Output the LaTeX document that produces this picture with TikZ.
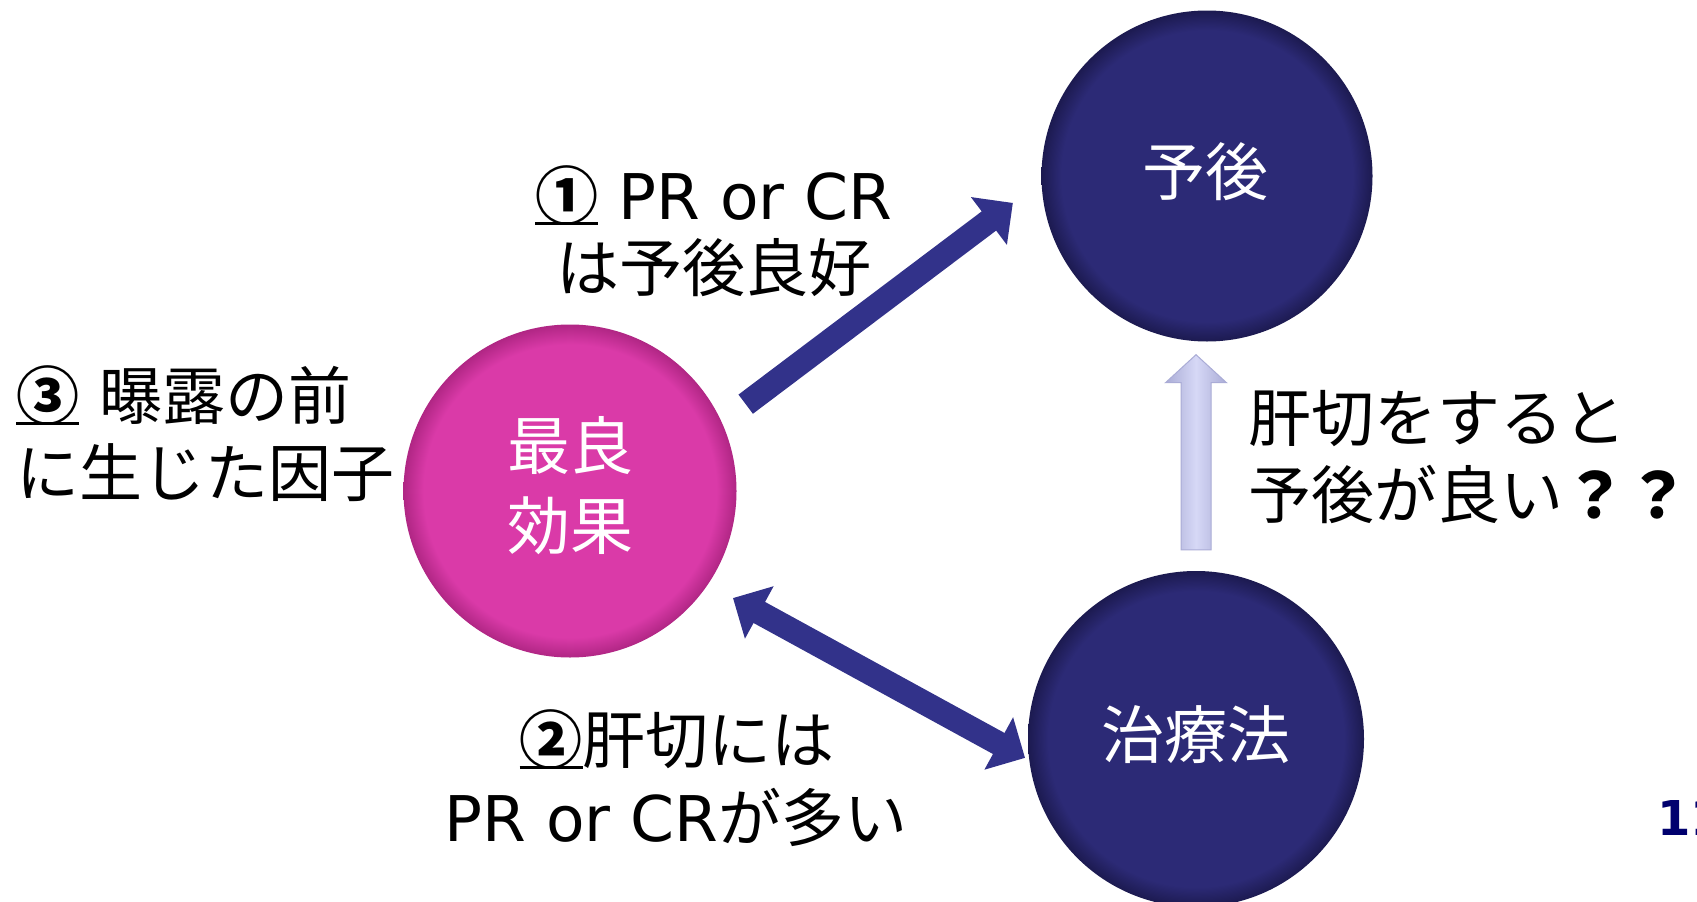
\documentclass[tikz,border=0pt]{standalone}
\usepackage{fontspec}
\setmainfont{DejaVu Sans}
\newfontfamily\jp{Noto Sans CJK JP}
\usetikzlibrary{arrows.meta,calc}
\definecolor{navy}{RGB}{44,42,118}
\definecolor{navydark}{RGB}{28,26,80}
\definecolor{mag}{RGB}{218,58,168}
\definecolor{magdark}{RGB}{176,38,132}
\definecolor{arrowblue}{RGB}{50,50,138}
\definecolor{lavmid}{RGB}{214,216,246}
\definecolor{lavedge}{RGB}{170,172,214}
\definecolor{pagenum}{RGB}{0,0,110}
\pgfdeclareradialshading{navyball}{\pgfpoint{0bp}{0bp}}{color(0bp)=(navy); color(22bp)=(navy); color(25bp)=(navydark); color(50bp)=(navydark)}
\pgfdeclareradialshading{magball}{\pgfpoint{0bp}{0bp}}{color(0bp)=(mag); color(22bp)=(mag); color(25bp)=(magdark); color(50bp)=(magdark)}
\newcommand{\myul}[1]{\setbox0\hbox{#1}\rlap{\rule[-6pt]{\wd0}{3pt}}\box0\relax}
\begin{document}
\begin{tikzpicture}[x=1pt,y=1pt,
  ball/.style={circle, inner sep=0pt, minimum size=#1, shade},
  txt/.style={anchor=base, inner sep=0pt, font=\fontsize{63}{76}\selectfont},
  jtxt/.style={txt, font=\jp\fontsize{63}{76}\selectfont},
  wtxt/.style={jtxt, text=white},
  navyarrow/.style={draw=arrowblue, line width=24pt},
  tipA/.tip={Triangle[length=30pt,width=58pt]}]
\useasboundingbox (0,0) rectangle (1697,-902);
\fill[white] (0,0) rectangle (1697,-902);

% circles
\node[ball=331, shading=navyball] (prog) at (1207,-176) {};
\node[ball=333, shading=magball] (best) at (570,-491) {};
\node[ball=336, shading=navyball] (treat) at (1196,-739) {};

% circle texts
\node[wtxt] (progT) at (1205,-195) {予後};
\node[wtxt] (bestT1) at (570,-469) {最良};
\node[wtxt] (bestT2) at (570,-549) {効果};
\node[wtxt] (treatT) at (1196,-758) {治療法};

% arrow 1
\draw[navyarrow, -tipA] ($(best.center)+(26.3:196pt)$) -- ($(prog.center)+(187.9:196pt)$);
% arrow 2 (double)
\draw[navyarrow, tipA-tipA] ($(best.center)+(-33.3:195pt)$) -- ($(treat.center)+(186.3:172pt)$);
% arrow 3 (light, upward)
\coordinate (la0) at ($(treat.north)+(0,21)$);
\coordinate (la1) at ($(treat.north |- prog.south)+(0,-13)$);
\path[draw=lavedge, line width=1pt, left color=lavedge, right color=lavedge, middle color=lavmid]
  ($(la0)+(-15,0)$) -- ($(la1)+(-15,-28)$) -- ($(la1)+(-30.5,-28)$) -- (la1)
  -- ($(la1)+(30.5,-28)$) -- ($(la1)+(15,-28)$) -- ($(la0)+(15,0)$) -- cycle;

% labels
\node[txt] (l1a) at (714,-219) {\myul{\jp\bfseries ①} PR or CR};
\node[jtxt] (l1b) at (714,-291) {は予後良好};
\node[txt, anchor=base west] (l3a) at (16,-419) {\myul{\jp\bfseries ③} {\jp 曝露の前}};
\node[jtxt, anchor=base west] (l3b) at (16,-496) {に生じた因子};
\node[jtxt, anchor=base west] (r1) at (1248,-441) {肝切をすると};
\node[jtxt, anchor=base west] (r2) at (1248,-518) {予後が良い{\bfseries ？？}};
\node[txt] (l2a) at (677,-763) {\myul{\jp\bfseries ②}{\jp 肝切には}};
\node[txt] (l2b) at (676,-841) {PR or CR{\jp が多い}};
\node[anchor=base west, inner sep=0pt, text=pagenum, font=\fontsize{48}{58}\selectfont\bfseries] (pg) at (1657,-835) {11};
\end{tikzpicture}
\end{document}
